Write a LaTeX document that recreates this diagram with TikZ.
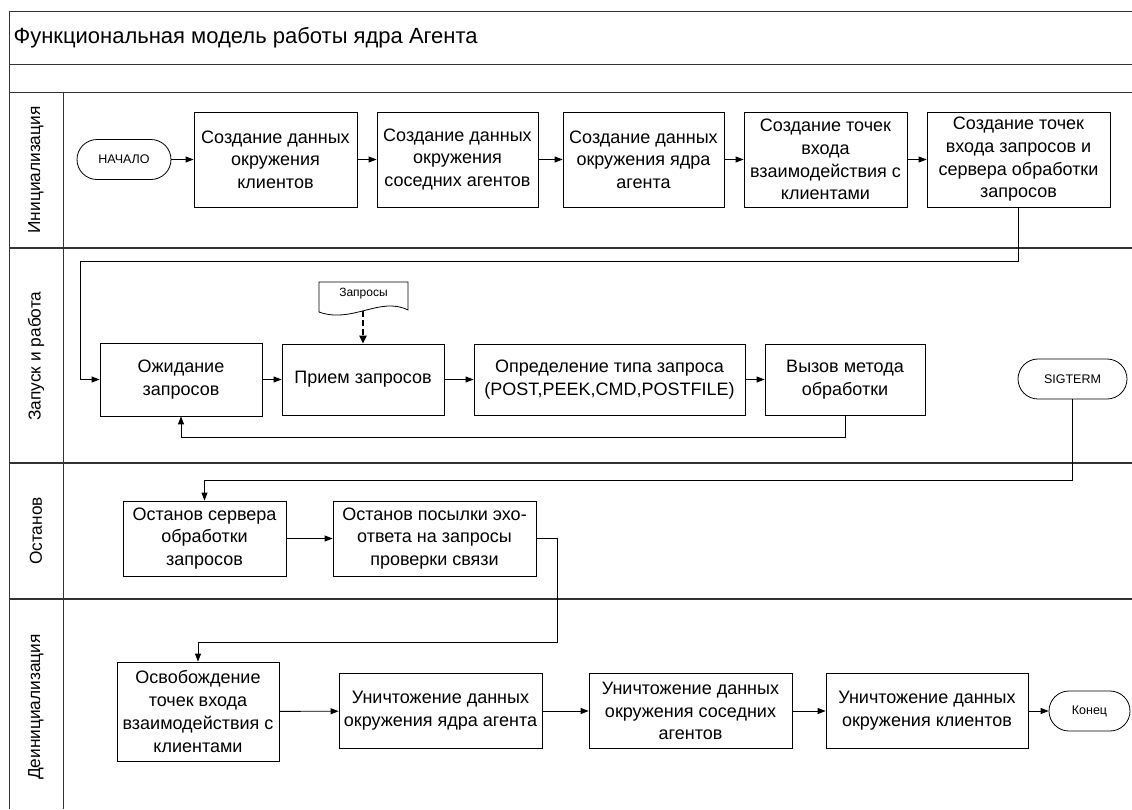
\documentclass[tikz,border=0pt]{standalone}
\usepackage{fontspec}
\setmainfont{Liberation Sans}
\usepackage{tikz}
\usetikzlibrary{arrows.meta,positioning,calc}
\tikzset{
  box/.style={draw, line width=0.8pt, align=center, inner sep=2pt,
              font=\fontsize{18}{22.7}\selectfont},
  term/.style={draw, line width=0.8pt, rounded corners=20pt, align=center,
               minimum height=40pt, font=\fontsize{12.5}{14}\selectfont},
  lane/.style={line width=1.8pt, black!80},
  frame/.style={line width=1pt, black!80},
  lanelbl/.style={rotate=90, font=\fontsize{17.3}{20}\selectfont},
  flow/.style={-{Triangle[length=8pt, width=6pt]}, line width=0.9pt},
  dflow/.style={-{Triangle[length=8pt, width=7pt]}, line width=2.2pt,
                dash pattern=on 6pt off 3pt},
}

\begin{document}
\begin{tikzpicture}[x=1pt, y=-1pt]
  \useasboundingbox (0,0) rectangle (1132,809);
  % frame and lanes
  \draw[frame] (1132,11) -- (9,11) -- (9,809);
  \draw[frame] (9,64) -- (1132,64);
  \draw[frame] (9,92) -- (1132,92);
  \draw[frame] (63,92) -- (63,809);
  \draw[lane] (9,248) -- (1132,248);
  \draw[lane] (9,463) -- (1132,463);
  \draw[lane] (9,599) -- (1132,599);
  \node[anchor=west, font=\fontsize{22}{25}\selectfont] at (10,38) (title)
    {Функциональная модель работы ядра Агента};
  \node[lanelbl] at (36,170) (l1) {Инициализация};
  \node[lanelbl] at (36,356) (l2) {Запуск и работа};
  \node[lanelbl] at (36,531) (l3) {Останов};
  \node[lanelbl] at (36,707) (l4) {Деинициализация};
  % initialisation
  \node[term, minimum width=94pt] at (124,159.5) (start) {НАЧАЛО};
  \node[box, minimum width=163pt, minimum height=95pt] at (275.5,159.5)
    (ini1) {Создание данных\\окружения\\клиентов};
  \node[box, minimum width=161pt, minimum height=95pt] at (457.5,159.5)
    (ini2) {Создание данных\\окружения\\соседних агентов};
  \node[box, minimum width=161pt, minimum height=95pt] at (643.5,159.5)
    (ini3) {Создание данных\\окружения ядра\\агента};
  \node[box, minimum width=163pt, minimum height=95pt] at (825.5,159.5)
    (ini4) {Создание точек\\входа\\взаимодействия с\\клиентами};
  \node[box, minimum width=183pt, minimum height=95pt] at (1018.5,159.5)
    (ini5) {Создание точек\\входа запросов и\\сервера обработки\\запросов};
  \draw[flow] (start) -- (ini1);
  \draw[flow] (ini1) -- (ini2);
  \draw[flow] (ini2) -- (ini3);
  \draw[flow] (ini3) -- (ini4);
  \draw[flow] (ini4) -- (ini5);
  % run
  \node[box, minimum width=162pt, minimum height=73pt] at (181,379.5)
    (wait) {Ожидание\\запросов};
  \node[box, minimum width=162pt, minimum height=71pt] at (363,379.5)
    (recv) {Прием запросов};
  \node[box, minimum width=271pt, minimum height=71pt] at (609.5,379.5)
    (kind) {Определение типа запроса\\(POST,PEEK,CMD,POSTFILE)};
  \node[box, minimum width=160pt, minimum height=71pt] at (845,379.5)
    (call) {Вызов метода\\обработки};
  \node[term, minimum width=109pt] at (1072.5,379) (sig) {SIGTERM};
  \node[font=\fontsize{12}{14}\selectfont] at (363.5,294) (req) {Запросы};
  \draw[line width=0.8pt] (319,312) -- (319,282) -- (408,282) -- (408,310)
    .. controls (380,296) and (352,324) .. (319,312);
  \coordinate (reqout) at (363,311);
  \draw[dflow] (reqout) -- (recv.north);
  \draw[flow] (ini5.south) |- (80,261) |- (wait.west);
  \draw[flow] (wait) -- (recv);
  \draw[flow] (recv) -- (kind);
  \draw[flow] (kind) -- (call);
  \draw[flow] (call.south) -- ++(0,22) -| (wait.south);
  % stop
  \node[box, minimum width=163pt, minimum height=75pt] at (204.5,538.5)
    (stop1) {Останов сервера\\обработки\\запросов};
  \node[box, minimum width=203pt, minimum height=75pt] at (434.5,538.5)
    (stop2) {Останов посылки эхо-\\ответа на запросы\\проверки связи};
  \draw[flow] (sig.south) -- ++(0,81) -| (stop1.north);
  \draw[flow] (stop1) -- (stop2);
  % deinitialisation
  \node[box, minimum width=162pt, minimum height=99pt] at (198,711.5)
    (free) {Освобождение\\точек входа\\взаимодействия с\\клиентами};
  \node[box, minimum width=203pt, minimum height=75pt] at (440.5,711)
    (del1) {Уничтожение данных\\окружения ядра агента};
  \node[box, minimum width=203pt, minimum height=75pt] at (690.5,711)
    (del2) {Уничтожение данных\\окружения соседних\\агентов};
  \node[box, minimum width=202pt, minimum height=75pt] at (927,711)
    (del3) {Уничтожение данных\\окружения клиентов};
  \node[term, minimum width=81pt] at (1089.5,711) (fin) {Конец};
  \draw[flow] (stop2.east) -| (557,642) -| (free.north);
  \draw[flow] (free) -- (del1);
  \draw[flow] (del1) -- (del2);
  \draw[flow] (del2) -- (del3);
  \draw[flow] (del3) -- (fin);
\end{tikzpicture}
\end{document}
